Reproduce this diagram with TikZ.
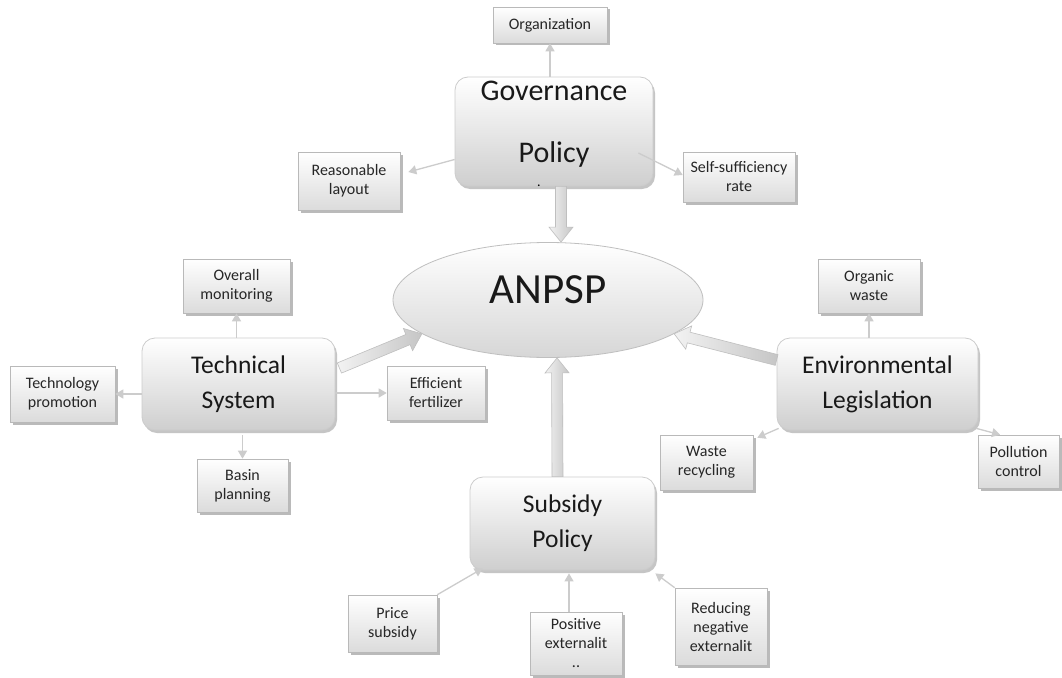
\documentclass[tikz,border=0pt]{standalone}
\usepackage{fontspec}
\setmainfont{Carlito}
\usetikzlibrary{shadows,arrows.meta,calc,shapes.geometric}
\newcommand\blockarrow[2]{%
  \coordinate (bac) at ($(#2)!15pt!(#1)$);
  \draw[blockarr] ($(#1)!5.5pt!90:(#2)$) -- ($(bac)!5.5pt!90:(#2)$) -- ($(bac)!12pt!90:(#2)$) -- (#2)
     -- ($(bac)!12pt!-90:(#2)$) -- ($(bac)!5.5pt!-90:(#2)$) -- ($(#1)!5.5pt!-90:(#2)$) -- cycle;
}
\begin{document}
\begin{tikzpicture}[x=1pt,y=-1pt,
  leaf/.style={rectangle, draw=gray!55, line width=0.6pt, top color=white, bottom color=gray!28,
    drop shadow={shadow xshift=2.5pt, shadow yshift=-2.5pt, fill=black!45, opacity=0.6},
    align=center, inner sep=0pt, font=\fontsize{16}{19}\selectfont, text=black!85},
  mainbox/.style={rectangle, rounded corners=13pt, draw=gray!40, line width=0.8pt, top color=white, bottom color=gray!38,
    drop shadow={shadow xshift=2pt, shadow yshift=-3pt, fill=black!45, opacity=0.5},
    align=center, inner sep=0pt, font=\fontsize{25.5}{35}\selectfont, text=black!90},
  conn/.style={draw=gray!40, line width=1.3pt, -{Triangle[length=8pt,width=9pt]}},
  blockarr/.style={draw=gray!50, line width=0.6pt, left color=gray!10, right color=gray!45}]

\fill[white] (0,0) rectangle (1062,677);
\useasboundingbox (0,0) rectangle (1062,677);

% central ellipse
\node[ellipse, draw=gray!50, line width=0.8pt, top color=white, bottom color=gray!32,
  minimum width=310pt, minimum height=115pt, inner sep=0pt, text depth=20pt,
  font=\fontsize{43}{43}\selectfont, text=black!90] (anpsp) at (548,300) {ANPSP};

% main boxes
\node[mainbox, minimum width=198pt, minimum height=109pt] (gov) at (554,131.5) {};
\node[align=center, inner sep=0pt, font=\fontsize{30}{62}\selectfont, text=black!90] (govt) at (554,124) {Governance\\Policy};
\node[mainbox, minimum width=193pt, minimum height=92pt] (tech) at (238.5,384) {Technical\\System};
\node[mainbox, minimum width=201pt, minimum height=92pt] (env) at (877.5,384) {Environmental\\Legislation};
\node[mainbox, minimum width=185pt, minimum height=93pt] (subs) at (562.5,523.5) {Subsidy\\Policy};
\node[inner sep=0pt, font=\fontsize{14}{14}\selectfont] (dot) at (539,186) {.};

% leaf boxes
\node[leaf, minimum width=114pt, minimum height=36pt] (org) at (550,25) {Organization};
\node[leaf, minimum width=102pt, minimum height=58pt] (reas) at (349,181) {Reasonable\\layout};
\node[leaf, minimum width=112pt, minimum height=50pt] (self) at (739,177) {Self-sufficiency\\rate};
\node[leaf, minimum width=107pt, minimum height=54pt] (overall) at (236.5,286) {Overall\\monitoring};
\node[leaf, minimum width=105pt, minimum height=56pt] (techprom) at (62.5,394) {Technology\\promotion};
\node[leaf, minimum width=98pt, minimum height=54pt] (effert) at (436,393) {Efficient\\fertilizer};
\node[leaf, minimum width=91pt, minimum height=53pt] (basin) at (242.5,485.5) {Basin\\planning};
\node[leaf, minimum width=102pt, minimum height=54pt] (organic) at (869,286) {Organic\\waste};
\node[leaf, minimum width=93pt, minimum height=55pt] (wasterec) at (706.5,462.5) {Waste\\recycling};
\node[leaf, minimum width=81pt, minimum height=53pt] (pollution) at (1018.5,461.5) {Pollution\\control};
\node[leaf, minimum width=89pt, minimum height=57pt] (price) at (392.5,623.5) {Price\\subsidy};
\node[leaf, minimum width=92pt, minimum height=63pt] (pos) at (576,643.5) {Positive\\externalit\\..};
\node[leaf, minimum width=92pt, minimum height=77pt] (reduce) at (721,626.5) {Reducing\\negative\\externalit};

% thin connectors
\draw[conn] (gov.north -| org) -- (org.south);
\draw[conn] ([yshift=-28pt]gov.west) -- ([xshift=8pt,yshift=9pt]reas.east);
\draw[conn] ([xshift=-15pt,yshift=-21.5pt]gov.east) -- ([yshift=2pt]self.west);
\draw[conn] (tech.north -| overall) -- (overall.south);
\draw[conn] (tech.west |- techprom) -- (techprom.east);
\draw[conn] (tech.east |- effert) -- (effert.west);
\draw[conn, shorten <=5pt] (tech.south -| basin) -- (basin.north);
\draw[conn] (env.north -| organic) -- (organic.south);
\draw[conn] ([xshift=2pt,yshift=2pt]env.south west) -- ([xshift=4pt,yshift=-3pt]wasterec.north east);
\draw[conn] ([xshift=-2pt,yshift=2pt]env.south east) -- ([xshift=-18.5pt]pollution.north);
\draw[conn] (price.north east) -- ([xshift=13pt,yshift=2pt]subs.south west);
\draw[conn] ([xshift=-7pt]pos.north) -- ([xshift=6.5pt,yshift=-3pt]subs.south);
\draw[conn] (reduce.north west) -- ([yshift=-3pt]subs.south east);

% block arrows into ANPSP
\coordinate (gA) at ([xshift=7pt]gov.south);
\coordinate (gB) at ([xshift=13pt]anpsp.north);
\coordinate (tA) at ([xshift=4pt,yshift=16pt]tech.east);
\coordinate (tB) at (anpsp.195);
\coordinate (eA) at ([yshift=24pt]env.west);
\coordinate (eB) at (anpsp.345);
\coordinate (sA) at ([xshift=-5pt]subs.north);
\coordinate (sB) at ([xshift=9pt]anpsp.south);
\blockarrow{gA}{gB}
\blockarrow{tA}{tB}
\blockarrow{eA}{eB}
\blockarrow{sA}{sB}
\end{tikzpicture}
\end{document}
